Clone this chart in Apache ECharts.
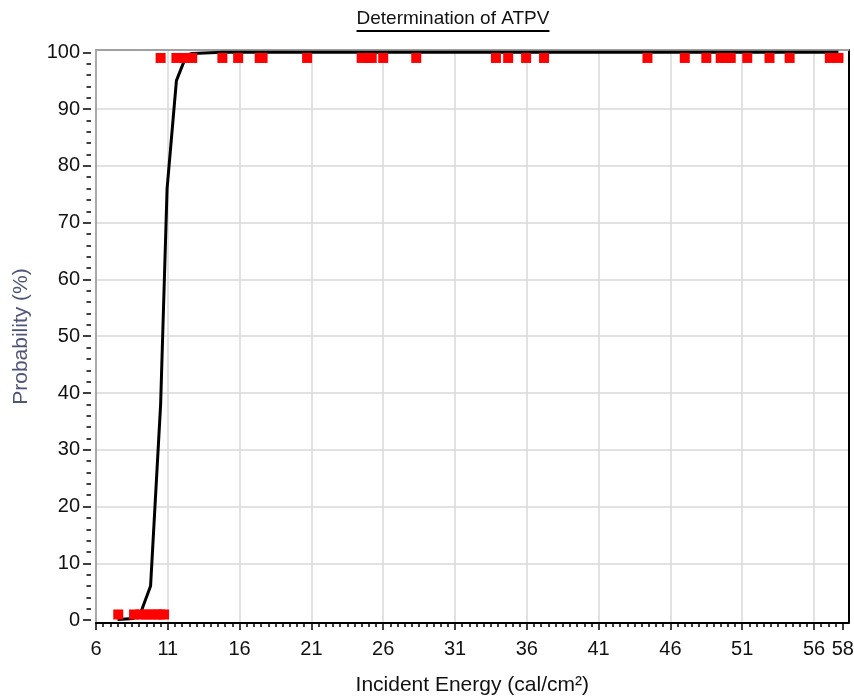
<!DOCTYPE html>
<html>
<head>
<meta charset="utf-8">
<script src="https://cdn.jsdelivr.net/npm/echarts@6/dist/echarts.min.js"></script>
<style>
html,body{margin:0;padding:0;background:#fff;}
#chart{width:854px;height:698px;}
</style>
</head>
<body>
<div id="chart"></div>
<script>
// ---- data ----
const titleText = 'Determination of ATPV';
const xAxisName = 'Incident Energy (cal/cm²)';
const yAxisName = 'Probability (%)';

const xTickLabels = [6, 11, 16, 21, 26, 31, 36, 41, 46, 51, 56, 58];
const yTickLabels = [0, 10, 20, 30, 40, 50, 60, 70, 80, 90, 100];

// fitted probability curve (vertices)
const curveEnergy = [7.5, 8.6, 9.1, 9.8, 10.5, 10.95, 11.6, 12.3, 12.7, 14.8, 57.7];
const curveProb   = [0.1, 0.3, 1.2, 6.0, 38, 76, 95, 99.5, 99.8, 100, 100];

// observed results plotted near 0 %
const failEnergy = [7.55, 8.65, 9.1, 9.5, 9.8, 10.2, 10.45, 10.74];
const failProb   = [1, 1, 1, 1, 1, 1, 1, 1];

// observed results plotted near 100 %
const passEnergy = [10.5, 11.6, 12.2, 12.7, 14.8, 15.9, 17.4, 17.6, 20.7, 24.5, 24.9, 25.2, 26.0, 28.3,
                    33.85, 34.7, 35.95, 37.2, 44.4, 47.0, 48.5, 49.5, 49.9, 50.2, 51.35, 52.9, 54.3, 57.1, 57.7];
const passProb   = [99, 99, 99, 99, 99, 99, 99, 99, 99, 99, 99, 99, 99, 99,
                    99, 99, 99, 99, 99, 99, 99, 99, 99, 99, 99, 99, 99, 99, 99];

// ---- axis ranges / minor tick positions ----
const xMin = 6, xMax = 58.4, yMin = -0.5, yMax = 100.4;
const xMinor = []; for (let v = 6; v <= 58.001; v += 0.5) xMinor.push(+v.toFixed(2));
const yMinor = []; for (let v = 0; v <= 100.001; v += 2) yMinor.push(v);
const xGrid = xTickLabels.filter(v => v > 6 && v < 58);
const yGrid = yTickLabels.filter(v => v > 0 && v < 100);

const FONT = '"Liberation Sans", Arial, sans-serif';

const chart = echarts.init(document.getElementById('chart'), null, {renderer: 'canvas'});

const mc = document.createElement('canvas').getContext('2d');
const titleFont = 19;
mc.font = titleFont + 'px "Liberation Sans"';
const tw = mc.measureText(titleText).width;
const tcx = 453, tcy = 19;

function zip(a, b) { return a.map((v, i) => [v, b[i]]); }

const hidden = {show: false};

chart.setOption({
  animation: false,
  backgroundColor: '#fff',
  grid: {left: 96, right: 5.5, top: 50, bottom: 75, containLabel: false, outerBoundsMode: 'none'},
  graphic: [
    {type: 'text', x: tcx, y: tcy, style: {text: titleText, font: titleFont + 'px ' + FONT, fill: '#111', align: 'center', verticalAlign: 'middle'}},
    {type: 'line', shape: {x1: tcx - tw / 2, y1: 31, x2: tcx + tw / 2, y2: 31}, style: {stroke: '#000', lineWidth: 2}}
  ],
  xAxis: [
    {
      type: 'value', min: xMin, max: xMax, position: 'bottom',
      axisLine: {show: true, onZero: false, lineStyle: {color: '#000', width: 2}},
      axisTick: {show: true, customValues: xTickLabels, length: 7, lineStyle: {color: '#000', width: 1.5}},
      axisLabel: {show: true, customValues: xTickLabels, fontSize: 20, color: '#111', fontFamily: FONT, margin: 16},
      splitLine: hidden,
      name: xAxisName, nameLocation: 'middle', nameGap: 52, nameMoveOverlap: false,
      nameTextStyle: {fontSize: 21, color: '#111', fontFamily: FONT}
    },
    {
      type: 'value', min: xMin, max: xMax, position: 'bottom',
      axisLine: {show: false, onZero: false},
      axisTick: {show: true, customValues: xMinor, length: 4, lineStyle: {color: '#000', width: 1.5}},
      axisLabel: hidden, splitLine: hidden
    },
    {
      type: 'value', min: xMin, max: xMax, position: 'top',
      axisLine: {show: true, onZero: false, lineStyle: {color: '#a0a0a0', width: 2}},
      axisTick: hidden, axisLabel: hidden, splitLine: hidden
    },
    {
      type: 'value', min: xMin, max: xMax, position: 'bottom',
      axisLine: {show: false, onZero: false},
      axisTick: {show: false, customValues: xGrid},
      axisLabel: {show: false, customValues: xGrid},
      splitLine: {show: true, lineStyle: {color: '#d9d9d9', width: 1.5}}
    }
  ],
  yAxis: [
    {
      type: 'value', min: yMin, max: yMax, position: 'left',
      axisLine: {show: true, onZero: false, lineStyle: {color: '#8c8c8c', width: 1.5}},
      axisTick: hidden, axisLabel: hidden, splitLine: hidden,
      name: yAxisName, nameLocation: 'middle', nameGap: 64, nameRotate: 90, nameMoveOverlap: false,
      nameTextStyle: {fontSize: 21, color: '#4f5577', fontFamily: FONT}
    },
    {
      type: 'value', min: yMin, max: yMax, position: 'left', offset: 5,
      axisLine: {show: false, onZero: false},
      axisTick: {show: true, customValues: yTickLabels, length: 8, lineStyle: {color: '#000', width: 1.5}},
      axisLabel: {show: true, customValues: yTickLabels, fontSize: 20, color: '#111', fontFamily: FONT, margin: 11},
      splitLine: hidden
    },
    {
      type: 'value', min: yMin, max: yMax, position: 'left', offset: 5,
      axisLine: {show: false, onZero: false},
      axisTick: {show: true, customValues: yMinor, length: 4.5, lineStyle: {color: '#000', width: 1.5}},
      axisLabel: hidden, splitLine: hidden
    },
    {
      type: 'value', min: yMin, max: yMax, position: 'right',
      axisLine: {show: true, onZero: false, lineStyle: {color: '#000', width: 2}},
      axisTick: hidden, axisLabel: hidden, splitLine: hidden
    },
    {
      type: 'value', min: yMin, max: yMax, position: 'left',
      axisLine: {show: false, onZero: false},
      axisTick: {show: false, customValues: yGrid},
      axisLabel: {show: false, customValues: yGrid},
      splitLine: {show: true, lineStyle: {color: '#d9d9d9', width: 1.5}}
    }
  ],
  series: [
    {
      type: 'line', xAxisIndex: 0, yAxisIndex: 0,
      data: zip(curveEnergy, curveProb),
      showSymbol: false, symbol: 'none', smooth: false,
      lineStyle: {color: '#000', width: 3},
      z: 2
    },
    {
      type: 'scatter', xAxisIndex: 0, yAxisIndex: 0,
      data: zip(failEnergy, failProb),
      symbol: 'rect', symbolSize: 10,
      itemStyle: {color: '#ff0000', opacity: 1},
      z: 3
    },
    {
      type: 'scatter', xAxisIndex: 0, yAxisIndex: 0,
      data: zip(passEnergy, passProb),
      symbol: 'rect', symbolSize: 10,
      itemStyle: {color: '#ff0000', opacity: 1},
      z: 3
    }
  ]
});
</script>
</body>
</html>
